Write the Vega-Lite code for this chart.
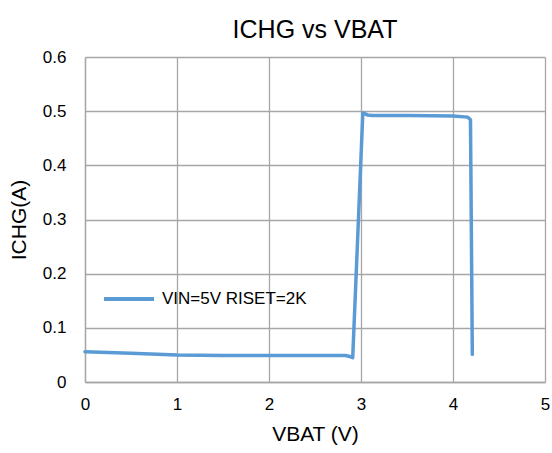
{
  "$schema": "https://vega.github.io/schema/vega-lite/v6.json",
  "width": 460,
  "height": 325,
  "autosize": {"type": "none"},
  "padding": {"left": 85, "top": 57, "right": 7, "bottom": 71},
  "background": "white",
  "title": {
    "text": "ICHG vs VBAT",
    "font": "Liberation Sans",
    "fontSize": 25,
    "fontWeight": "normal",
    "color": "#000000",
    "anchor": "middle",
    "offset": 5
  },
  "data": {
    "values": [
      {"v": 0.0, "i": 0.056, "series": "VIN=5V RISET=2K"},
      {"v": 0.5, "i": 0.053, "series": "VIN=5V RISET=2K"},
      {"v": 1.0, "i": 0.050, "series": "VIN=5V RISET=2K"},
      {"v": 1.5, "i": 0.049, "series": "VIN=5V RISET=2K"},
      {"v": 2.0, "i": 0.049, "series": "VIN=5V RISET=2K"},
      {"v": 2.5, "i": 0.049, "series": "VIN=5V RISET=2K"},
      {"v": 2.83, "i": 0.049, "series": "VIN=5V RISET=2K"},
      {"v": 2.88, "i": 0.047, "series": "VIN=5V RISET=2K"},
      {"v": 2.91, "i": 0.045, "series": "VIN=5V RISET=2K"},
      {"v": 3.02, "i": 0.497, "series": "VIN=5V RISET=2K"},
      {"v": 3.07, "i": 0.493, "series": "VIN=5V RISET=2K"},
      {"v": 3.12, "i": 0.492, "series": "VIN=5V RISET=2K"},
      {"v": 3.5, "i": 0.492, "series": "VIN=5V RISET=2K"},
      {"v": 4.0, "i": 0.491, "series": "VIN=5V RISET=2K"},
      {"v": 4.16, "i": 0.489, "series": "VIN=5V RISET=2K"},
      {"v": 4.19, "i": 0.484, "series": "VIN=5V RISET=2K"},
      {"v": 4.21, "i": 0.051, "series": "VIN=5V RISET=2K"}
    ]
  },
  "mark": {"type": "line", "strokeWidth": 3.5, "strokeCap": "round", "strokeJoin": "round"},
  "encoding": {
    "x": {
      "field": "v",
      "type": "quantitative",
      "scale": {"domain": [0, 5], "nice": false, "zero": false},
      "axis": {"values": [0, 1, 2, 3, 4, 5], "title": "VBAT (V)", "titlePadding": 11}
    },
    "y": {
      "field": "i",
      "type": "quantitative",
      "scale": {"domain": [0, 0.6], "nice": false},
      "axis": {"values": [0, 0.1, 0.2, 0.3, 0.4, 0.5, 0.6], "format": "~g", "title": "ICHG(A)", "titlePadding": 13}
    },
    "color": {
      "field": "series",
      "type": "nominal",
      "scale": {"range": ["#5B9BD5"]},
      "legend": {
        "title": null,
        "orient": "none",
        "legendX": 17,
        "legendY": 215,
        "symbolType": "stroke",
        "symbolSize": 2500,
        "symbolStrokeWidth": 4,
        "labelFont": "Liberation Sans",
        "labelFontSize": 17,
        "labelColor": "#000000",
        "labelOffset": 6
      }
    }
  },
  "config": {
    "view": {"stroke": null},
    "axis": {
      "grid": true,
      "gridColor": "#A6A6A6",
      "gridWidth": 1.3,
      "domainColor": "#A6A6A6",
      "domainWidth": 1.3,
      "ticks": false,
      "labelFlush": false,
      "labelFont": "Liberation Sans",
      "labelFontSize": 17,
      "labelColor": "#000000",
      "titleFont": "Liberation Sans",
      "titleFontSize": 21,
      "titleFontWeight": "normal",
      "titleColor": "#000000"
    },
    "axisX": {"labelPadding": 14},
    "axisY": {"labelPadding": 19}
  }
}
